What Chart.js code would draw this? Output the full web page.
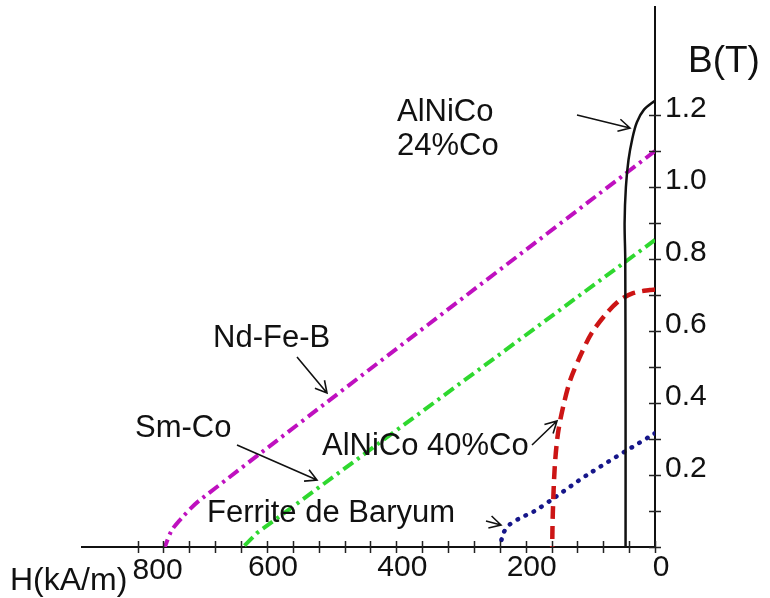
<!DOCTYPE html>
<html>
<head>
<meta charset="utf-8">
<title>Courbes de désaimantation</title>
<script src="https://cdn.jsdelivr.net/npm/chart.js@4.4.1/dist/chart.umd.min.js"></script>
<style>
  html, body { margin: 0; padding: 0; background: #fff; }
  #wrap { width: 770px; height: 598px; }
</style>
</head>
<body>
<div id="wrap"><canvas id="chart" width="770" height="598"></canvas></div>
<script>
// axis ticks (H grows to the left, B on the right-hand axis)
const hTicks = [0, 40, 80, 120, 160, 200, 240, 280, 320, 360, 400, 440, 480, 520, 560, 600, 640, 680, 720, 760, 800];
const hLabelled = [0, 200, 400, 600];
const hLastLabel = 800; // sits against the axis title, drawn by the plugin
const bTicks = [0, 0.1, 0.2, 0.3, 0.4, 0.5, 0.6, 0.7, 0.8, 0.9, 1.0, 1.1, 1.2];
const bLabelled = [0.2, 0.4, 0.6, 0.8, 1.0, 1.2];
const hMax = 886;
const bMax = 1.5;

// demagnetisation curves: H in kA/m, B in T
const alnico24H = [0, 17, 28, 35, 41, 45, 47, 46, 45.5, 45.5];
const alnico24B = [1.24, 1.215, 1.18, 1.135, 1.075, 1.0, 0.9, 0.8, 0.4, 0];

const ndfebH = [0, 704, 730, 747, 758];
const ndfebB = [1.1, 0.13, 0.084, 0.047, 0];

const smcoH = [0, 616, 637];
const smcoB = [0.853, 0.038, 0];

const alnico40H = [0, 8, 34, 54, 75, 98, 116, 131, 142, 150, 155, 158, 159];
const alnico40B = [0.715, 0.714, 0.705, 0.686, 0.649, 0.594, 0.529, 0.464, 0.39, 0.316, 0.223, 0.094, 0];

const ferriteH = [0, 105, 157, 188, 209, 225, 234, 240];
const ferriteB = [0.316, 0.2, 0.135, 0.098, 0.08, 0.062, 0.04, 0];

const FONT = '"Liberation Sans", Arial, sans-serif';

function pts(hs, bs) {
  return hs.map((h, i) => ({ x: h, y: bs[i] }));
}

function arrow(ctx, x1, y1, x2, y2) {
  const ang = Math.atan2(y2 - y1, x2 - x1);
  const len = 13, spread = 0.5;
  ctx.beginPath();
  ctx.moveTo(x1, y1);
  ctx.lineTo(x2, y2);
  ctx.moveTo(x2 - len * Math.cos(ang - spread), y2 - len * Math.sin(ang - spread));
  ctx.lineTo(x2, y2);
  ctx.lineTo(x2 - len * Math.cos(ang + spread), y2 - len * Math.sin(ang + spread));
  ctx.stroke();
}

// no extra room for half labels, the chart area is fixed by the layout padding
function noScalePadding(s) {
  s.paddingTop = 0;
  s.paddingBottom = 0;
  s.paddingLeft = 0;
  s.paddingRight = 0;
}

// tick marks crossing the axes, the labels and the arrows
const decor = {
  id: 'decor',
  afterDraw(chart) {
    const { ctx, chartArea: a, scales: { x, y } } = chart;
    ctx.save();
    ctx.strokeStyle = '#222';
    ctx.lineWidth = 1.5;
    ctx.beginPath();
    hTicks.forEach(v => {
      const px = Math.round(x.getPixelForValue(v)) + 0.5;
      ctx.moveTo(px, a.bottom - 6);
      ctx.lineTo(px, a.bottom + 6);
    });
    bTicks.forEach(v => {
      const py = Math.round(y.getPixelForValue(v)) + 0.5;
      ctx.moveTo(a.right - 6, py);
      ctx.lineTo(a.right + 6, py);
    });
    ctx.stroke();

    ctx.fillStyle = '#111';
    ctx.textBaseline = 'alphabetic';
    ctx.textAlign = 'center';
    ctx.font = '30px ' + FONT;
    ctx.fillText(String(hLastLabel), x.getPixelForValue(hLastLabel) + 20, 579);

    ctx.textAlign = 'left';
    ctx.font = '31px ' + FONT;
    ctx.fillText('AlNiCo', 397, 121);
    ctx.fillText('24%Co', 397, 155);
    ctx.fillText('Nd-Fe-B', 213, 347);
    ctx.fillText('Sm-Co', 135, 437);
    ctx.fillText('AlNiCo 40%Co', 322, 455);
    ctx.fillText('Ferrite de Baryum', 207, 522);
    ctx.font = '37px ' + FONT;
    ctx.fillText('B(T)', 688, 72);
    ctx.font = '32px ' + FONT;
    ctx.fillText('H(kA/m)', 10, 590);

    ctx.strokeStyle = '#111';
    ctx.lineWidth = 1.6;
    arrow(ctx, 577, 115, 630, 128);
    arrow(ctx, 297, 357, 327, 393);
    arrow(ctx, 237, 445, 317, 480);
    arrow(ctx, 532, 445, 557, 421);
    arrow(ctx, 486, 521, 501, 525);
    ctx.restore();
  }
};

const ctx = document.getElementById('chart');

new Chart(ctx, {
  type: 'scatter',
  data: {
    datasets: [
      {
        label: 'AlNiCo 24%Co',
        data: pts(alnico24H, alnico24B),
        showLine: true,
        borderColor: '#111',
        borderWidth: 2.5,
        tension: 0.3
      },
      {
        label: 'Nd-Fe-B',
        data: pts(ndfebH, ndfebB),
        showLine: true,
        borderColor: '#bf10bf',
        borderWidth: 4,
        borderDash: [12, 5, 3, 5],
        tension: 0.3
      },
      {
        label: 'Sm-Co',
        data: pts(smcoH, smcoB),
        showLine: true,
        borderColor: '#2fd82f',
        borderWidth: 4,
        borderDash: [12, 5, 3, 5],
        tension: 0
      },
      {
        label: 'AlNiCo 40%Co',
        data: pts(alnico40H, alnico40B),
        showLine: true,
        borderColor: '#cc1515',
        borderWidth: 4.5,
        borderDash: [13, 7],
        tension: 0.3
      },
      {
        label: 'Ferrite de Baryum',
        data: pts(ferriteH, ferriteB),
        showLine: true,
        borderColor: '#16168a',
        borderWidth: 4.5,
        borderDash: [0.5, 8.5],
        borderCapStyle: 'round',
        tension: 0.3
      }
    ]
  },
  options: {
    responsive: false,
    animation: false,
    layout: { padding: { left: 82, top: 7, right: 0, bottom: 0 } },
    elements: { point: { radius: 0, hoverRadius: 0 } },
    plugins: {
      legend: { display: false },
      tooltip: { enabled: false }
    },
    scales: {
      x: {
        type: 'linear',
        position: 'bottom',
        reverse: true,
        min: 0,
        max: hMax,
        grid: { display: false, drawTicks: false },
        border: { display: true, color: '#111', width: 2 },
        afterBuildTicks: s => { s.ticks = hTicks.map(v => ({ value: v })); },
        afterFit: s => { s.height = 51; noScalePadding(s); },
        ticks: {
          autoSkip: false,
          maxRotation: 0,
          minRotation: 0,
          padding: 3,
          color: '#111',
          font: { family: FONT, size: 30 },
          labelOffset: 6,
          callback: v => (hLabelled.includes(v) ? String(v) : '')
        }
      },
      y: {
        type: 'linear',
        position: 'right',
        min: 0,
        max: bMax,
        grid: { display: false, drawTicks: false },
        border: { display: true, color: '#111', width: 2 },
        afterBuildTicks: s => { s.ticks = bTicks.map(v => ({ value: v })); },
        afterFit: s => { s.width = 115; noScalePadding(s); },
        ticks: {
          autoSkip: false,
          padding: 10,
          color: '#111',
          font: { family: FONT, size: 30 },
          labelOffset: -6,
          callback: v => (bLabelled.some(b => Math.abs(b - v) < 1e-6) ? v.toFixed(1) : '')
        }
      }
    }
  },
  plugins: [decor]
});
</script>
</body>
</html>
